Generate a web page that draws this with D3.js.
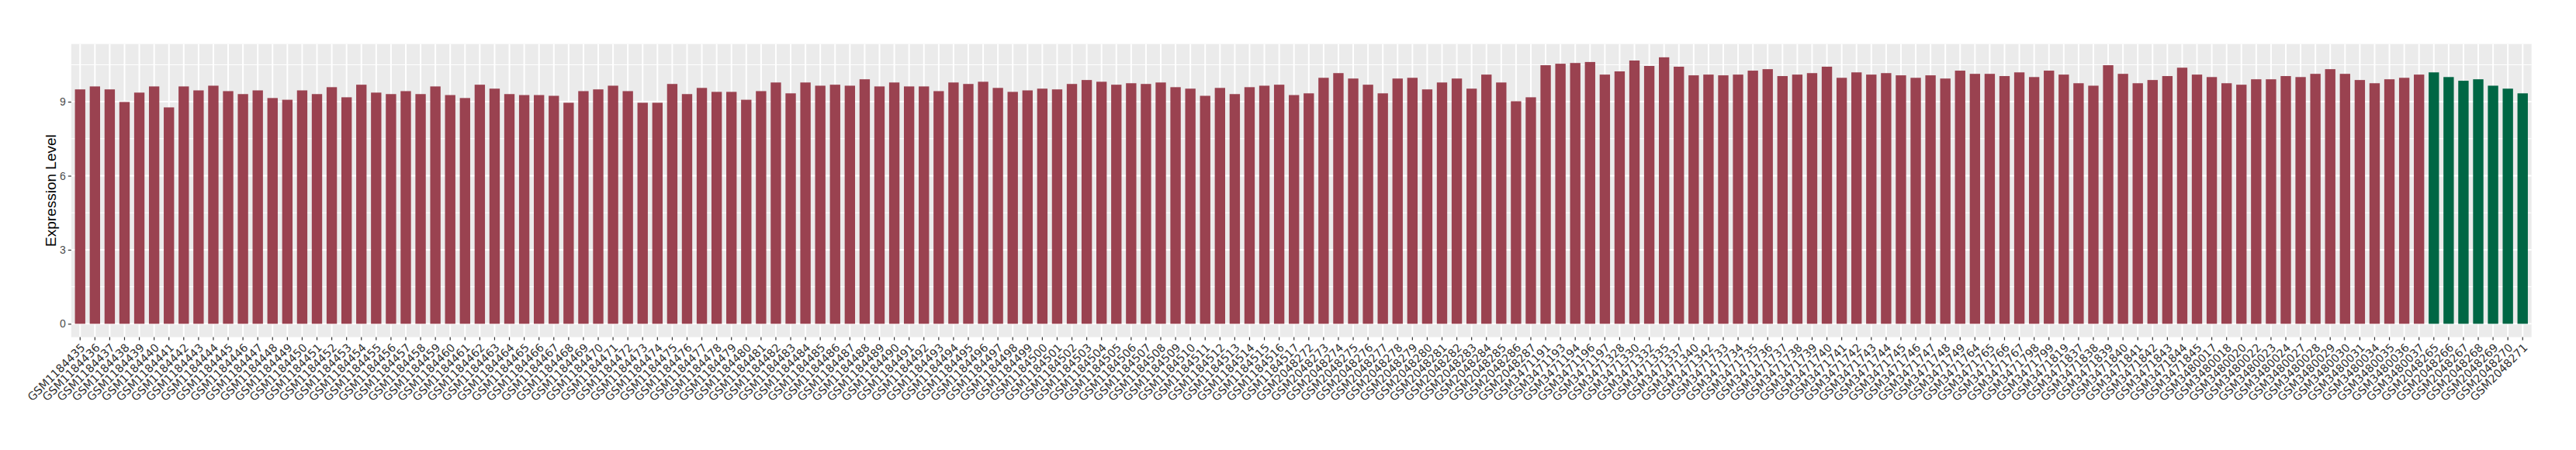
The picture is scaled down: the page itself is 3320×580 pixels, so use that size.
<!DOCTYPE html>
<html>
<head>
<meta charset="utf-8">
<script src="https://cdnjs.cloudflare.com/ajax/libs/d3/7.8.5/d3.min.js"></script>
<style>
body{margin:0;background:#fff;}
</style>
</head>
<body>
<svg id="chart"></svg>
<script>
var samples = [
 "GSM1184435","GSM1184436","GSM1184437","GSM1184438","GSM1184439","GSM1184440","GSM1184441","GSM1184442","GSM1184443","GSM1184444",
 "GSM1184445","GSM1184446","GSM1184447","GSM1184448","GSM1184449","GSM1184450","GSM1184451","GSM1184452","GSM1184453","GSM1184454",
 "GSM1184455","GSM1184456","GSM1184457","GSM1184458","GSM1184459","GSM1184460","GSM1184461","GSM1184462","GSM1184463","GSM1184464",
 "GSM1184465","GSM1184466","GSM1184467","GSM1184468","GSM1184469","GSM1184470","GSM1184471","GSM1184472","GSM1184473","GSM1184474",
 "GSM1184475","GSM1184476","GSM1184477","GSM1184478","GSM1184479","GSM1184480","GSM1184481","GSM1184482","GSM1184483","GSM1184484",
 "GSM1184485","GSM1184486","GSM1184487","GSM1184488","GSM1184489","GSM1184490","GSM1184491","GSM1184492","GSM1184493","GSM1184494",
 "GSM1184495","GSM1184496","GSM1184497","GSM1184498","GSM1184499","GSM1184500","GSM1184501","GSM1184502","GSM1184503","GSM1184504",
 "GSM1184505","GSM1184506","GSM1184507","GSM1184508","GSM1184509","GSM1184510","GSM1184511","GSM1184512","GSM1184513","GSM1184514",
 "GSM1184515","GSM1184516","GSM1184517",
 "GSM2048272","GSM2048273","GSM2048274","GSM2048275","GSM2048276","GSM2048277","GSM2048278","GSM2048279","GSM2048280","GSM2048281",
 "GSM2048282","GSM2048283","GSM2048284","GSM2048285","GSM2048286","GSM2048287",
 "GSM3471191","GSM3471193","GSM3471194","GSM3471196","GSM3471197",
 "GSM3471328","GSM3471330","GSM3471332","GSM3471335","GSM3471337","GSM3471340","GSM3471342",
 "GSM3471733","GSM3471734","GSM3471735","GSM3471736","GSM3471737","GSM3471738","GSM3471739","GSM3471740","GSM3471741","GSM3471742",
 "GSM3471743","GSM3471744","GSM3471745","GSM3471746","GSM3471747","GSM3471748","GSM3471749",
 "GSM3471764","GSM3471765","GSM3471766","GSM3471767","GSM3471798","GSM3471799","GSM3471819",
 "GSM3471837","GSM3471838","GSM3471839","GSM3471840","GSM3471841","GSM3471842","GSM3471843","GSM3471844","GSM3471845",
 "GSM3480017","GSM3480018","GSM3480020","GSM3480022","GSM3480023","GSM3480024","GSM3480027","GSM3480028","GSM3480029","GSM3480030",
 "GSM3480031","GSM3480034","GSM3480035","GSM3480036","GSM3480037",
 "GSM2048265","GSM2048266","GSM2048267","GSM2048268","GSM2048269","GSM2048270","GSM2048271"
];

var expression = [
 9.50, 9.62, 9.50, 8.99, 9.37, 9.62, 8.77, 9.62, 9.46, 9.65,
 9.43, 9.31, 9.46, 9.15, 9.08, 9.46, 9.31, 9.59, 9.18, 9.69,
 9.37, 9.31, 9.43, 9.31, 9.62, 9.27, 9.15, 9.69, 9.53, 9.31,
 9.27, 9.27, 9.24, 8.96, 9.43, 9.50, 9.65, 9.43, 8.96, 8.96,
 9.72, 9.31, 9.56, 9.40, 9.40, 9.08, 9.43, 9.78, 9.34, 9.78,
 9.65, 9.69, 9.65, 9.91, 9.62, 9.78, 9.62, 9.62, 9.43, 9.78,
 9.72, 9.81, 9.56, 9.40, 9.46, 9.53, 9.50, 9.72, 9.88, 9.81,
 9.69, 9.75, 9.72, 9.78, 9.59, 9.53, 9.24, 9.56, 9.31, 9.59,
 9.65, 9.69, 9.27,
 9.34, 9.97, 10.16, 9.94, 9.69, 9.34, 9.94, 9.97, 9.50, 9.78,
 9.94, 9.53, 10.10, 9.78, 9.02, 9.18,
 10.48, 10.54, 10.57, 10.61, 10.10,
 10.23, 10.67, 10.45, 10.80, 10.42, 10.07, 10.10,
 10.07, 10.10, 10.26, 10.32, 10.04, 10.10, 10.16, 10.42, 9.97, 10.19,
 10.10, 10.16, 10.07, 9.97, 10.07, 9.94, 10.26,
 10.13, 10.13, 10.04, 10.19, 10.00, 10.26, 10.10,
 9.75, 9.65, 10.48, 10.13, 9.75, 9.88, 10.04, 10.38, 10.10,
 10.00, 9.75, 9.69, 9.91, 9.91, 10.04, 10.00, 10.13, 10.32, 10.13,
 9.88, 9.75, 9.91, 9.97, 10.10,
 10.19, 10.00, 9.85, 9.91, 9.65, 9.53, 9.34
];

var controlSamples = ["GSM2048265","GSM2048266","GSM2048267","GSM2048268","GSM2048269","GSM2048270","GSM2048271"];
var yMajor = [0, 3, 6, 9];
var yMinor = [1.5, 4.5, 7.5, 10.5];

var width = 3320, height = 580;
var margin = {top:56.7, left:91.8, right:57.3, bottom:145.5};
var panelW = width - margin.left - margin.right;
var panelH = height - margin.top - margin.bottom;

var svg = d3.select("#chart").attr("width", width).attr("height", height);
svg.append("rect").attr("width", width).attr("height", height).attr("fill", "#ffffff");

var data = samples.map(function(s, i){ return {id:s, value:expression[i]}; });

var ymax = d3.max(expression);
var xScale = d3.scaleBand()
    .domain(samples)
    .range([margin.left, margin.left + panelW])
    .paddingInner(0.3)
    .paddingOuter(0.25);
var yScale = d3.scaleLinear()
    .domain([-0.05 * ymax, 1.05 * ymax])
    .range([margin.top + panelH, margin.top]);

// panel + grid
svg.append("rect")
    .attr("x", margin.left).attr("y", margin.top)
    .attr("width", panelW).attr("height", panelH)
    .attr("fill", "#EBEBEB");

var grid = svg.append("g").attr("class", "grid");
grid.selectAll(".minor").data(yMinor).enter().append("line")
    .attr("x1", margin.left).attr("x2", margin.left + panelW)
    .attr("y1", function(d){ return yScale(d); }).attr("y2", function(d){ return yScale(d); })
    .attr("stroke", "#ffffff").attr("stroke-width", 1);
grid.selectAll(".major").data(yMajor).enter().append("line")
    .attr("x1", margin.left).attr("x2", margin.left + panelW)
    .attr("y1", function(d){ return yScale(d); }).attr("y2", function(d){ return yScale(d); })
    .attr("stroke", "#ffffff").attr("stroke-width", 2);
grid.selectAll(".vmajor").data(samples).enter().append("line")
    .attr("x1", function(d){ return xScale(d) + xScale.bandwidth()/2; })
    .attr("x2", function(d){ return xScale(d) + xScale.bandwidth()/2; })
    .attr("y1", margin.top).attr("y2", margin.top + panelH)
    .attr("stroke", "#ffffff").attr("stroke-width", 2);

// bars
svg.append("g").selectAll("rect").data(data).enter().append("rect")
    .attr("x", function(d){ return xScale(d.id); })
    .attr("width", xScale.bandwidth())
    .attr("y", function(d){ return yScale(d.value); })
    .attr("height", function(d){ return yScale(0) - yScale(d.value); })
    .attr("fill", function(d){ return controlSamples.indexOf(d.id) >= 0 ? "#006644" : "#9A4250"; });

// axes
var yAxis = d3.axisLeft(yScale).tickValues(yMajor).tickSize(4).tickPadding(3);
var yG = svg.append("g")
    .attr("transform", "translate(" + margin.left + ",0)")
    .call(yAxis);
yG.select(".domain").remove();
yG.selectAll("line").attr("stroke", "#333333").attr("stroke-width", 1.2);
yG.selectAll("text").attr("fill", "#4D4D4D").style("font-family", "Liberation Sans, Arial, sans-serif").style("font-size", "14px");

var xAxis = d3.axisBottom(xScale).tickSize(4).tickFormat("");
var xG = svg.append("g")
    .attr("transform", "translate(0," + (margin.top + panelH) + ")")
    .call(xAxis);
xG.select(".domain").remove();
xG.selectAll("line").attr("stroke", "#333333").attr("stroke-width", 1.2);

svg.append("g").selectAll("text").data(samples).enter().append("text")
    .attr("transform", function(d){
        return "translate(" + (xScale(d) + xScale.bandwidth()/2) + "," + (margin.top + panelH + 7) + ") rotate(-45)";
    })
    .attr("text-anchor", "end")
    .attr("dominant-baseline", "hanging")
    .attr("fill", "#333333")
    .style("font-family", "DejaVu Sans, sans-serif")
    .style("font-size", "14.5px")
    .text(function(d){ return d; });

svg.append("text")
    .attr("transform", "translate(72," + (margin.top + panelH/2) + ") rotate(-90)")
    .attr("text-anchor", "middle")
    .attr("fill", "#000000")
    .style("font-family", "Liberation Sans, Arial, sans-serif")
    .style("font-size", "19px")
    .text("Expression Level");
</script>
</body>
</html>
